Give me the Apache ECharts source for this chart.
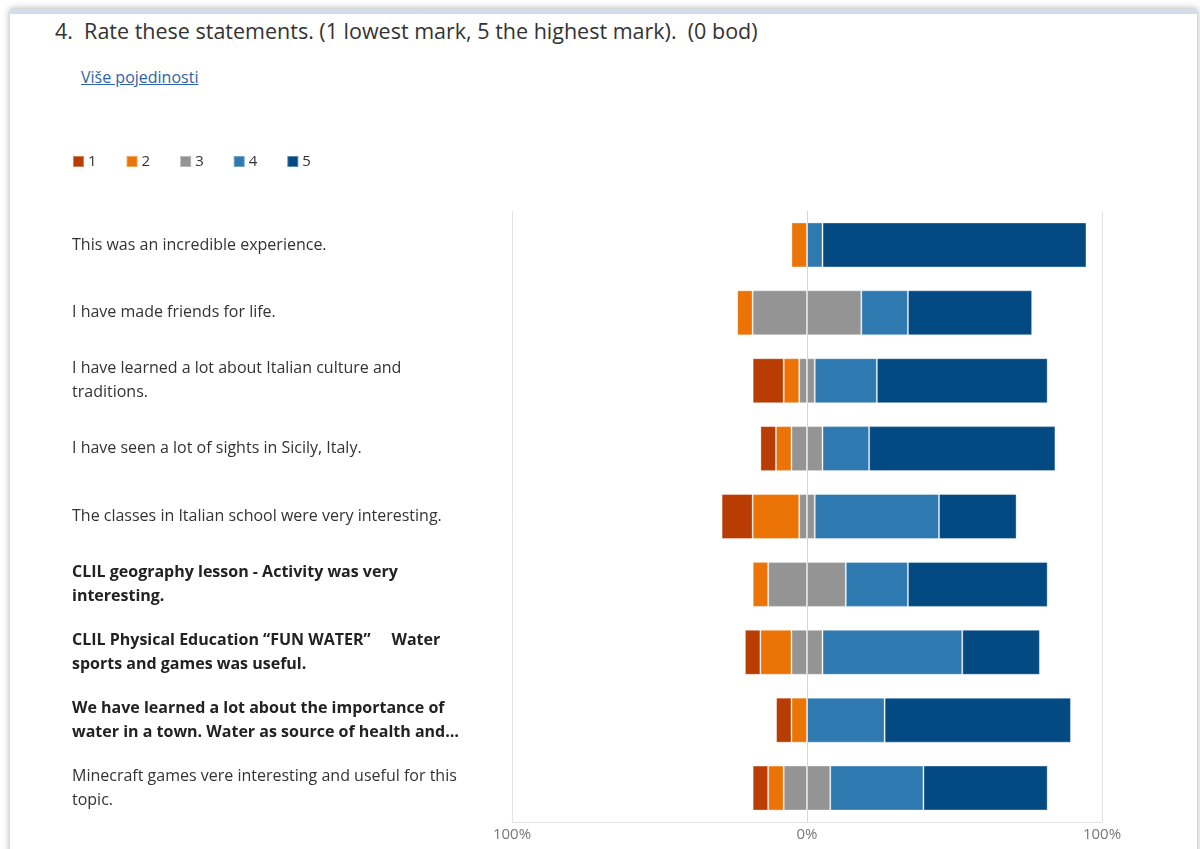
<!DOCTYPE html>
<html>
<head>
<meta charset="utf-8">
<script src="https://cdn.jsdelivr.net/npm/echarts@6/dist/echarts.min.js"></script>
<style>
  html, body { margin: 0; padding: 0; width: 1200px; height: 849px; overflow: hidden; background: #ffffff; font-family: "Segoe UI", "Open Sans", "Noto Sans", sans-serif; }
  #card { position: absolute; left: 10px; top: 9px; width: 1187px; height: 860px; background: #fff; border-top: 5px solid #d3deeb; box-shadow: 0 0 7px rgba(0,0,0,0.35); }
  #title { position: absolute; left: 55px; top: 16px; font-size: 21.5px; color: #333; white-space: pre; }
  #link { position: absolute; left: 81px; top: 66px; font-size: 16px; color: #2f64a8; text-decoration: underline; }
  #chart { position: absolute; left: 0; top: 0; width: 1200px; height: 849px; }
</style>
</head>
<body>
<div id="card"></div>
<div id="title">4.  Rate these statements. (1 lowest mark, 5 the highest mark).  (0 bod)</div>
<div id="link">Više pojedinosti</div>
<div id="chart"></div>
<script>
// Statements (top to bottom)
const categories = [
  "This was an incredible experience.",
  "I have made friends for life.",
  "I have learned a lot about Italian culture and traditions.",
  "I have seen a lot of sights in Sicily, Italy.",
  "The classes in Italian school were very interesting.",
  "CLIL geography lesson - Activity was very interesting.",
  "CLIL Physical Education \u201cFUN WATER\u201d     Water sports and games was useful.",
  "We have learned a lot about the importance of water in a town. Water as source of health and\u2026",
  "Minecraft games vere interesting and useful for this topic."
];
const boldRows = [5, 6, 7];
// Response counts per mark (19 respondents)
const mark1 = [0, 0, 2, 1, 2, 0, 1, 1, 1];
const mark2 = [1, 1, 1, 1, 3, 1, 2, 1, 1];
const mark3 = [0, 7, 1, 2, 1, 5, 2, 0, 3];
const mark4 = [1, 3, 4, 3, 8, 4, 9, 5, 6];
const mark5 = [17, 8, 11, 12, 5, 9, 5, 12, 8];
const legendNames = ["1", "2", "3", "4", "5"];
const tickValues = [-100, 0, 100];

const colors = { "1": "#b93c02", "2": "#ec7306", "3": "#949494", "4": "#2d79b0", "5": "#034a83" };

const totals = categories.map((_, i) => mark1[i] + mark2[i] + mark3[i] + mark4[i] + mark5[i]);
const pct = (arr) => arr.map((v, i) => v / totals[i] * 100);

const p1 = pct(mark1), p2 = pct(mark2), p3 = pct(mark3), p4 = pct(mark4), p5 = pct(mark5);

const itemStyle = (c) => ({ color: c, borderColor: "rgba(255,255,255,0.35)", borderWidth: 1 });
const base = { type: "bar", stack: "total", barWidth: 45, emphasis: { disabled: true } };

const series = [
  Object.assign({}, base, { name: "3", itemStyle: itemStyle(colors["3"]), data: p3.map(v => -v / 2) }),
  Object.assign({}, base, { name: "2", itemStyle: itemStyle(colors["2"]), data: p2.map(v => -v) }),
  Object.assign({}, base, { name: "1", itemStyle: itemStyle(colors["1"]), data: p1.map(v => -v) }),
  Object.assign({}, base, { name: "3", itemStyle: itemStyle(colors["3"]), data: p3.map(v => v / 2) }),
  Object.assign({}, base, { name: "4", itemStyle: itemStyle(colors["4"]), data: p4 }),
  Object.assign({}, base, {
    name: "5", itemStyle: itemStyle(colors["5"]), data: p5,
    markLine: {
      silent: true, symbol: "none", label: { show: false },
      lineStyle: { color: "#d6d6d6", width: 1, type: "solid" },
      emphasis: { disabled: true },
      data: [{ xAxis: 0 }]
    }
  })
];

const labelStyle = { align: "left", width: 400, overflow: "break", fontSize: 16, lineHeight: 24, color: "#333" };

const chart = echarts.init(document.getElementById("chart"), null, { renderer: "canvas" });
chart.setOption({
  animation: false,
  textStyle: { fontFamily: '"Segoe UI", "Open Sans", "Noto Sans", sans-serif' },
  legend: {
    data: legendNames,
    left: 67, top: 149,
    itemWidth: 11, itemHeight: 11, itemGap: 29,
    icon: "rect",
    textStyle: { fontSize: 15, color: "#333", padding: [0, 0, 0, -1] }
  },
  grid: { left: 512, right: 98, top: 211, bottom: 27, containLabel: false, outerBoundsMode: "none" },
  xAxis: {
    type: "value", min: -100, max: 100, interval: 100,
    axisLine: { show: true, lineStyle: { color: "#e4e4e4", width: 1 } },
    axisTick: { show: false },
    splitLine: { show: true, lineStyle: { color: "#e4e4e4", width: 1 } },
    axisLabel: { formatter: (v) => tickValues.includes(v) ? Math.abs(v) + "%" : "", color: "#777", fontSize: 15, margin: 5 }
  },
  yAxis: {
    type: "category", inverse: true,
    data: categories.map((c, i) => boldRows.includes(i)
      ? { value: c, textStyle: Object.assign({}, labelStyle, { fontWeight: "bold", color: "#222" }) }
      : c),
    axisLine: { show: false }, axisTick: { show: false }, splitLine: { show: false },
    axisLabel: Object.assign({ margin: 440, padding: [3, 0, 0, 0] }, labelStyle)
  },
  series: series
});
</script>
</body>
</html>
